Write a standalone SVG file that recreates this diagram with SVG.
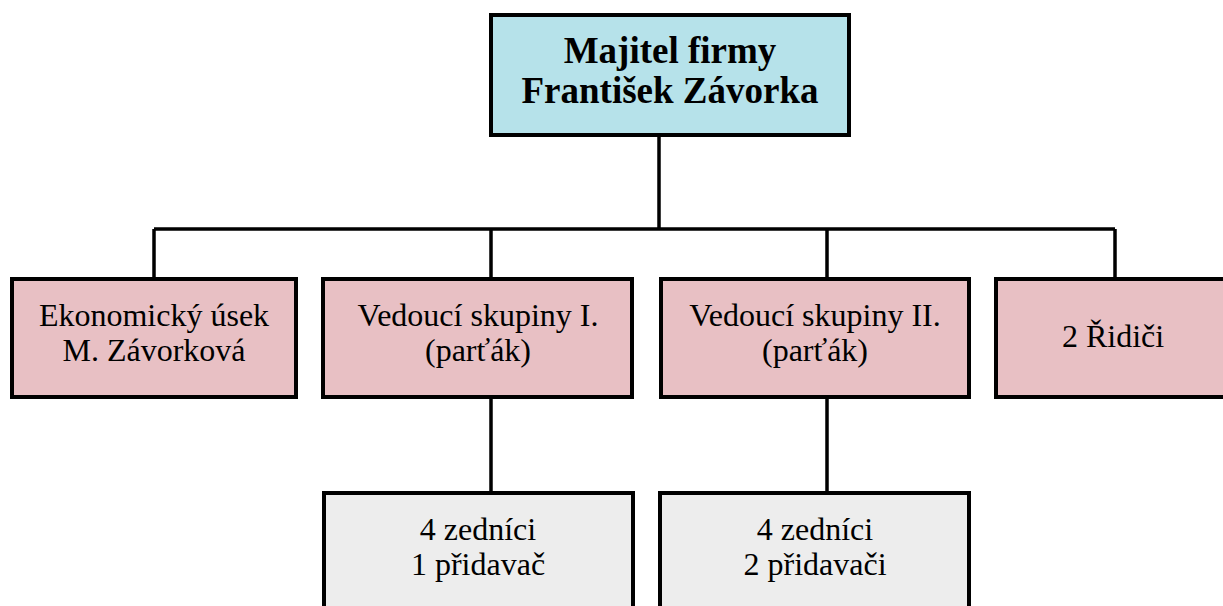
<svg xmlns="http://www.w3.org/2000/svg" width="1223" height="606" viewBox="0 0 1223 606">
<style>
.box{stroke:#000;stroke-width:4}
.top{fill:#b6e2ea}
.pink{fill:#e8c0c4}
.gray{fill:#ededed}
.conn{stroke:#000;stroke-width:3.5;fill:none}
svg g[id] text.lbl{font-family:'Liberation Serif',serif !important;font-size:32px;fill:#000;text-anchor:middle}
svg g[id] text.lblb{font-family:'Liberation Serif',serif !important;font-size:37px;font-weight:bold;fill:#000;text-anchor:middle}
</style>
<rect width="1223" height="606" fill="#fff"/>
<g id="connectors">
<path class="conn" d="M659 135V229M154 229H1115M154 229V277M491 229V277M827 229V277M1115 229V277M491 398V491M827 398V491"/>
</g>
<g id="owner">
<rect class="box top" x="491" y="15" width="358" height="120"/>
<text class="lblb" style="font-family:'Liberation Serif',serif !important" x="670" y="63">Majitel firmy</text>
<text class="lblb" style="font-family:'Liberation Serif',serif !important" x="670" y="103">František Závorka</text>
</g>
<g id="ekonom">
<rect class="box pink" x="12" y="279" width="284" height="118"/>
<text class="lbl" style="font-family:'Liberation Serif',serif !important" x="154" y="326">Ekonomický úsek</text>
<text class="lbl" style="font-family:'Liberation Serif',serif !important" x="154" y="361">M. Závorková</text>
</g>
<g id="vedouci1">
<rect class="box pink" x="323" y="279" width="309" height="118"/>
<text class="lbl" style="font-family:'Liberation Serif',serif !important" x="478" y="326">Vedoucí skupiny I.</text>
<text class="lbl" style="font-family:'Liberation Serif',serif !important" x="478" y="361">(parťák)</text>
</g>
<g id="vedouci2">
<rect class="box pink" x="661" y="279" width="308" height="118"/>
<text class="lbl" style="font-family:'Liberation Serif',serif !important" x="815" y="326">Vedoucí skupiny II.</text>
<text class="lbl" style="font-family:'Liberation Serif',serif !important" x="815" y="361">(parťák)</text>
</g>
<g id="ridici">
<rect class="box pink" x="996" y="279" width="240" height="118"/>
<text class="lbl" style="font-family:'Liberation Serif',serif !important" x="1113" y="347">2 Řidiči</text>
</g>
<g id="skupina1">
<rect class="box gray" x="324" y="493" width="309" height="130"/>
<text class="lbl" style="font-family:'Liberation Serif',serif !important" x="478" y="540">4 zedníci</text>
<text class="lbl" style="font-family:'Liberation Serif',serif !important" x="478" y="575">1 přidavač</text>
</g>
<g id="skupina2">
<rect class="box gray" x="660" y="493" width="309" height="130"/>
<text class="lbl" style="font-family:'Liberation Serif',serif !important" x="815" y="540">4 zedníci</text>
<text class="lbl" style="font-family:'Liberation Serif',serif !important" x="815" y="575">2 přidavači</text>
</g>
</svg>
